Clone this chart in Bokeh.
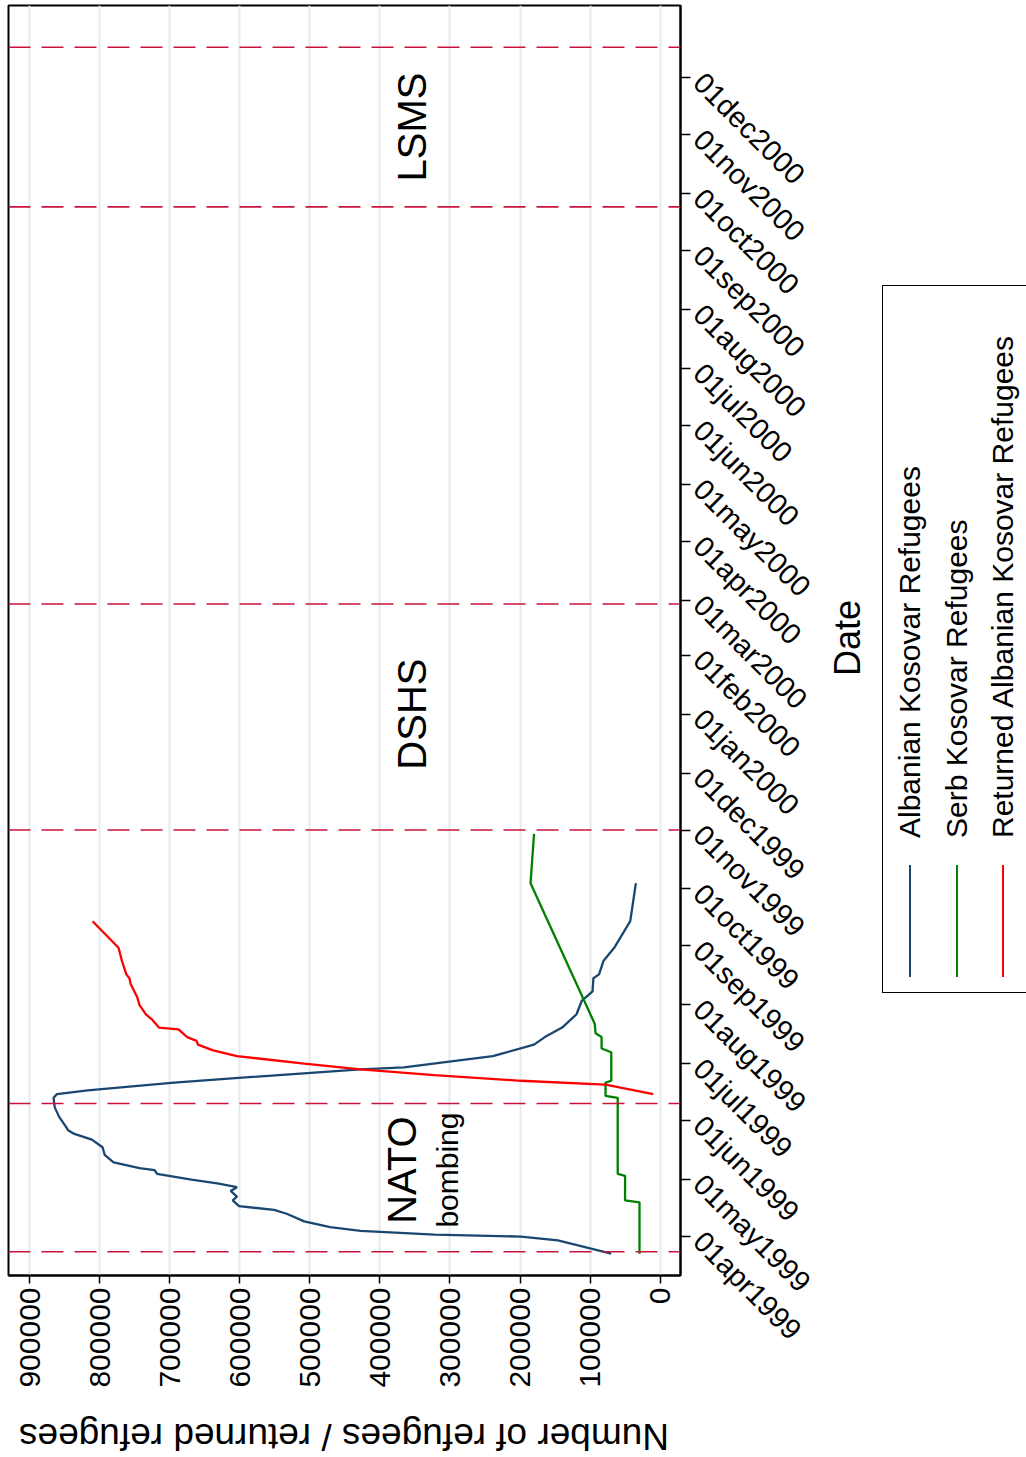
import math
from datetime import datetime
from bokeh.plotting import figure
from bokeh.models import (Range1d, FixedTicker, CustomJSTickFormatter, NumeralTickFormatter,
                          Span, Label, Div)
from bokeh.layouts import row, column
from bokeh.embed import file_html
from bokeh.resources import INLINE

FONT = "Liberation Sans"

# ---------------- data ----------------
albanian_dates = ["1999-03-23", "1999-03-30", "1999-04-01", "1999-04-02", "1999-04-04", "1999-04-06",
                  "1999-04-09", "1999-04-13", "1999-04-15", "1999-04-17", "1999-04-20", "1999-04-22",
                  "1999-04-25", "1999-04-27", "1999-04-29", "1999-05-01", "1999-05-04", "1999-05-06",
                  "1999-05-07", "1999-05-10", "1999-05-12", "1999-05-14", "1999-05-18", "1999-05-22",
                  "1999-05-25", "1999-05-27", "1999-05-29", "1999-06-03", "1999-06-08", "1999-06-13",
                  "1999-06-15", "1999-06-17", "1999-06-21", "1999-06-24", "1999-06-28", "1999-06-29",
                  "1999-07-02", "1999-07-05", "1999-07-11", "1999-07-15", "1999-07-20", "1999-07-27",
                  "1999-08-03", "1999-08-08", "1999-08-15", "1999-08-17", "1999-08-24", "1999-08-31",
                  "1999-09-14", "1999-10-04"]
albanian_values = [69900, 146000, 198600, 322000, 427600, 471000,
                   508000, 533000, 551000, 601000, 610000, 604000,
                   613000, 604000, 632000, 669000, 718000, 721500,
                   743000, 780000, 786500, 792700, 795800, 811000,
                   836000, 845000, 848400, 857700, 864000, 865700,
                   860800, 817000, 693700, 582000, 427600, 365700,
                   303800, 238900, 180000, 164600, 139900, 119400,
                   112000, 96500, 95300, 87250, 81000, 65600,
                   42700, 34700]

serb_dates = ["1999-03-23", "1999-04-19", "1999-04-20", "1999-05-03", "1999-05-04", "1999-06-13",
              "1999-06-14", "1999-06-21", "1999-06-22", "1999-07-07", "1999-07-09", "1999-07-15",
              "1999-07-17", "1999-07-22", "1999-10-04", "1999-10-30"]
serb_values = [29500, 29500, 50100, 50100, 60600, 60600,
               78000, 78000, 69800, 69800, 83600, 83600,
               92200, 93400, 185000, 180000]

returned_dates = ["1999-06-15", "1999-06-20", "1999-06-22", "1999-06-25", "1999-06-28", "1999-07-01",
                  "1999-07-05", "1999-07-08", "1999-07-11", "1999-07-13", "1999-07-15", "1999-07-19",
                  "1999-07-20", "1999-07-24", "1999-07-27", "1999-08-01", "1999-08-05", "1999-08-12",
                  "1999-08-15", "1999-08-17", "1999-08-24", "1999-08-31", "1999-09-14"]
returned_values = [9900, 78000, 198600, 322400, 427600, 508000,
                   604000, 638000, 659700, 661600, 675000, 687500,
                   715300, 724600, 733900, 743200, 746300, 755600,
                   757400, 761800, 768000, 773000, 810000]

series_names = ["Albanian Kosovar Refugees", "Serb Kosovar Refugees",
                "Returned Albanian Kosovar Refugees"]
series_colors = ["#1a476f", "#008000", "#ff0000"]

value_ticks = [0, 100000, 200000, 300000, 400000, 500000, 600000, 700000, 800000, 900000]
date_tick_labels = ["01apr1999", "01may1999", "01jun1999", "01jul1999", "01aug1999", "01sep1999",
                    "01oct1999", "01nov1999", "01dec1999", "01jan2000", "01feb2000", "01mar2000",
                    "01apr2000", "01may2000", "01jun2000", "01jul2000", "01aug2000", "01sep2000",
                    "01oct2000", "01nov2000", "01dec2000"]

event_dates = ["1999-03-24", "1999-06-10", "1999-11-01", "2000-02-28", "2000-09-24", "2000-12-17"]
period_texts = ["NATO", "bombing", "DSHS", "LSMS"]
period_dates = ["1999-05-06", "1999-05-06", "2000-01-01", "2000-11-05"]

x_title = "Number of refugees / returned refugees"
y_title = "Date"

# ---------------- helpers ----------------
EPOCH = datetime(1970, 1, 1)


def ms(s):
    if "-" in s:
        d = datetime.strptime(s, "%Y-%m-%d")
    else:
        d = datetime.strptime(s, "%d%b%Y")
    return (d - EPOCH).total_seconds() * 1000.0


HOUR = 3600e3
y_start = ms("1999-03-11") + 12 * HOUR
y_end = ms("2001-01-08")
x_left, x_right = 930000, -29000

MAIN_W, MAIN_H = 836, 1405

p = figure(width=MAIN_W, height=MAIN_H,
           x_range=Range1d(x_left, x_right), y_range=Range1d(y_start, y_end),
           output_backend="svg", toolbar_location=None,
           x_axis_location="below", y_axis_location="right",
           min_border_left=8, min_border_top=5, min_border_right=MAIN_W - 680,
           min_border_bottom=MAIN_H - 1275,
           background_fill_color="white", border_fill_color="white")
p.outline_line_color = "black"
p.outline_line_width = 2

# grid
p.ygrid.visible = False
p.xgrid.ticker = FixedTicker(ticks=value_ticks)
p.xgrid.grid_line_color = "#e2ebee"
p.xgrid.grid_line_width = 2

# bottom (value) axis
xa = p.xaxis[0]
xa.ticker = FixedTicker(ticks=value_ticks)
xa.formatter = NumeralTickFormatter(format="0")
xa.major_label_orientation = math.pi / 2
xa.major_label_text_font = FONT
xa.major_label_text_font_size = "30px"
xa.major_label_text_color = "black"
xa.major_label_standoff = 4
xa.major_tick_out = 8
xa.major_tick_in = 0
xa.major_tick_line_width = 1.5
xa.minor_tick_line_color = None
xa.axis_line_width = 2

# right (date) axis
ya = p.yaxis[0]
date_ticks = [ms(s) for s in date_tick_labels]
ya.ticker = FixedTicker(ticks=date_ticks)
ya.formatter = CustomJSTickFormatter(args=dict(labels=date_tick_labels),
                                     code="return labels[index]")
ya.major_label_orientation = -math.pi / 4
ya.major_label_text_font = FONT
ya.major_label_text_font_size = "29px"
ya.major_label_text_color = "black"
ya.major_label_standoff = 8
ya.major_tick_out = 10
ya.major_tick_in = 0
ya.major_tick_line_width = 1.5
ya.minor_tick_line_color = None
ya.axis_line_width = 2

# event lines
for d in event_dates:
    p.add_layout(Span(location=ms(d), dimension="width", line_color="#c8143c",
                      line_dash="22 11", line_width=1.6))

# series
all_series = [(albanian_dates, albanian_values), (serb_dates, serb_values),
              (returned_dates, returned_values)]
for (ds, vs), c in zip(all_series, series_colors):
    p.line(x=vs, y=[ms(d) for d in ds], line_color=c, line_width=2.3)

# period annotations
period_x = [369000, 303000, 354000, 354000]
period_sizes = ["40px", "30px", "40px", "40px"]
for t, d, xv, fs in zip(period_texts, period_dates, period_x, period_sizes):
    p.add_layout(Label(x=xv, y=ms(d), text=t, angle=math.pi / 2, text_align="center",
                       text_baseline="alphabetic", text_font=FONT, text_font_size=fs,
                       text_color="black"))

# ---------------- right-hand side: y title + rotated legend ----------------
RIGHT_W = 1026 - MAIN_W
ox = MAIN_W  # page x of the div's left edge
txt_style = f"position:absolute;white-space:nowrap;font-family:'{FONT}';color:black;line-height:1;"
parts = [f'<div style="position:relative;width:{RIGHT_W}px;height:{MAIN_H}px;">']
# y-axis title "Date", reading bottom-to-top
parts.append(f'<div style="{txt_style}left:{848 - ox}px;top:638px;font-size:36px;'
             f'transform:translate(-50%,-50%) rotate(-90deg);">{y_title}</div>')
# legend box
parts.append(f'<div style="position:absolute;left:{882 - ox}px;top:285px;'
             f'width:{1026 - 882}px;height:708px;border:1.5px solid black;border-right:none;'
             f'box-sizing:border-box;"></div>')
item_x = [910, 957, 1003]
for cx, name, color in zip(item_x, series_names, series_colors):
    parts.append(f'<div style="position:absolute;left:{cx - ox - 1}px;top:865px;width:2.3px;'
                 f'height:112px;background:{color};"></div>')
    parts.append(f'<div style="{txt_style}left:{cx - ox}px;top:838px;font-size:30px;'
                 f'transform-origin:0 0;transform:rotate(-90deg) translateY(-50%);">{name}</div>')
parts.append('</div>')
right_div = Div(text="".join(parts), width=RIGHT_W, height=MAIN_H, margin=0)

# ---------------- bottom: x title, upside down ----------------
BOT_H = 1457 - MAIN_H
bottom_div = Div(text=(f'<div style="position:relative;width:{MAIN_W}px;height:{BOT_H}px;">'
                       f'<div style="{txt_style}left:344px;top:31px;font-size:37px;'
                       f'transform:translate(-50%,-50%) rotate(180deg);">{x_title}</div></div>'),
                 width=MAIN_W, height=BOT_H, margin=0)

layout = column(row(p, right_div, spacing=0), bottom_div, spacing=0)
open("out.html", "w").write(file_html(layout, INLINE))
